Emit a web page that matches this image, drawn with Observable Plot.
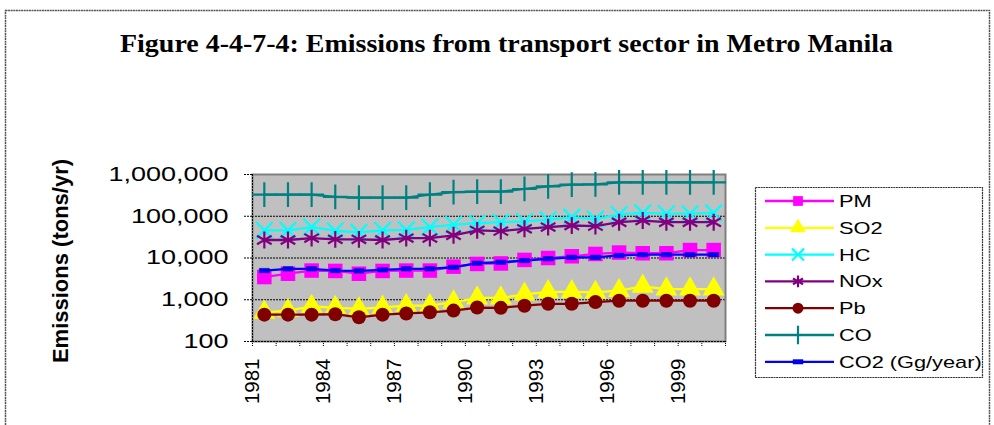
<!DOCTYPE html>
<html><head><meta charset="utf-8">
<script src="https://cdn.jsdelivr.net/npm/d3@7"></script>
<script src="https://cdn.jsdelivr.net/npm/@observablehq/plot@0.6"></script>
<style>html,body{margin:0;padding:0;background:#fff}svg{display:block}</style>
</head><body><div id="chart"></div>
<script>
const years = [1981,1982,1983,1984,1985,1986,1987,1988,1989,1990,1991,1992,1993,1994,1995,1996,1997,1998,1999,2000];
const labelYears = [1981,1984,1987,1990,1993,1996,1999];
const yTicks = [100,1000,10000,100000,1000000];
const seriesNames = ["PM","SO2","HC","NOx","Pb","CO","CO2 (Gg/year)"];
const seriesColors = ["#ff00ff","#ffff00","#00ffff","#800080","#800000","#008080","#0000ff"];

const PM  = [3500,4200,5000,4900,4200,4900,5000,5000,6200,7200,7400,9000,10000,11000,12500,13500,13000,13000,15500,15500];
const SO2 = [500,550,690,650,600,660,720,720,880,1100,1100,1350,1550,1550,1500,1650,2100,1800,1800,1800];
const HC  = [46000,46000,55000,45000,41000,46000,47000,55000,63000,68000,72000,75000,82000,95000,85000,110000,120000,115000,115000,120000];
const NOx = [27000,27000,30000,28000,28000,27000,30000,30000,35000,46000,44000,50000,55000,60000,58000,72000,79000,72000,72000,72000];
const Pb  = [440,440,440,450,380,440,470,500,550,650,640,720,800,800,880,950,950,950,950,950];
const CO  = [330000,330000,330000,290000,280000,280000,280000,330000,380000,390000,390000,450000,520000,570000,580000,650000,650000,650000,650000,650000];
const CO2 = [5000,5500,5500,5000,4900,5200,5500,5500,6000,7500,7900,8700,9600,10400,10400,11500,12000,12000,12000,12000];

const seriesValues = [PM,SO2,HC,NOx,Pb,CO,CO2];
const table = seriesNames.map((name,i)=>years.map((year,j)=>({series:name, year, value:seriesValues[i][j]})));

const smallRect = {draw(ctx, size){ ctx.rect(-5,-2.2,10,4.4); }};
const markerStyles = [
  {symbol:"square", fill:"#ff00ff", stroke:"none", r:8.2, lr:5.5},
  {symbol:"triangle", fill:"#ffff00", stroke:"none", r:8.2, lr:5.8},
  {symbol:"times", fill:"none", stroke:"#00ffff", r:7.6, strokeWidth:2.2, lr:5.5},
  {symbol:"asterisk", fill:"none", stroke:"#800080", r:8, strokeWidth:2.2, lr:5.5},
  {symbol:"circle", fill:"#800000", stroke:"none", r:7, lr:5.5},
  {symbol:"plus", fill:"none", stroke:"#008080", r:8, strokeWidth:2.2, lr:6},
  {symbol:smallRect, fill:"#0000ff", stroke:"#000080", r:3, strokeWidth:0.5, lr:3}
];

const seriesMarks = [];
table.forEach((rows,i)=>{
  seriesMarks.push(Plot.line(rows,{x:"year", y:"value", stroke:seriesColors[i], strokeWidth:2.3}));
  const m = markerStyles[i];
  seriesMarks.push(Plot.dot(rows,{x:"year", y:"value", symbol:()=>m.symbol, fill:m.fill, stroke:m.stroke, r:m.r, strokeWidth:m.strokeWidth||1}));
});

const bounds = years.map(y=>y-0.5).concat([years[years.length-1]+0.5]);

const chart = Plot.plot({
  width:994, height:425,
  marginLeft:252, marginRight:269, marginTop:174, marginBottom:84,
  style:{fontFamily:"Arial, 'Liberation Sans', sans-serif", background:"transparent", overflow:"visible", color:"#000"},
  x:{type:"linear", domain:[bounds[0], bounds[bounds.length-1]]},
  y:{type:"log", domain:[yTicks[0], yTicks[yTicks.length-1]]},
  symbol:{type:"identity"},
  marks:[
    Plot.frame({fill:"#c0c0c0", stroke:"none"}),
    Plot.gridY(yTicks.slice(1), {stroke:"#000", strokeOpacity:1, strokeDasharray:"2,1", strokeWidth:1}),
    Plot.frame({stroke:"#808080", strokeWidth:2, fill:"none"}),
    Plot.axisY(yTicks, {tickSize:9, tickPadding:15, tickFormat:d3.format(","), fontSize:20, label:null, strokeDasharray:"2,1"}),
    Plot.axisX(bounds, {tickSize:5, tickFormat:()=>"", label:null, strokeDasharray:"1,1"}),
    Plot.ruleX([bounds[0]], {stroke:"#000", strokeDasharray:"2,1"}),
    Plot.ruleY([yTicks[0]], {stroke:"#000", strokeDasharray:"2,1"}),
    ...seriesMarks,
    Plot.text(labelYears, {x:d=>d, frameAnchor:"bottom", text:d=>String(d), rotate:-90, textAnchor:"end", dy:17, dx:-5, fontSize:20.5, fill:"#000"})
  ]
});
document.getElementById("chart").appendChild(chart);

const svg = d3.select(chart);
svg.selectAll('g[aria-label="y-axis tick label"] text').each(function(){
  const len = this.getComputedTextLength();
  d3.select(this).attr("textLength", len*1.35).attr("lengthAdjust","spacingAndGlyphs");
});

// outer frame
svg.append("rect").attr("x",5.5).attr("y",10.5).attr("width",984).attr("height",440)
  .attr("fill","none").attr("stroke","#555").attr("stroke-width",1.5).attr("stroke-dasharray","2,0.6");

// title
svg.append("text").attr("x",506.5).attr("y",52).attr("text-anchor","middle")
  .attr("font-family","'Times New Roman','Liberation Serif',serif").attr("font-weight","bold").attr("font-size",25)
  .attr("textLength",773).attr("lengthAdjust","spacingAndGlyphs")
  .text("Figure 4-4-7-4: Emissions from transport sector in Metro Manila");

// y axis title
svg.append("text").attr("transform","translate(68,261) rotate(-90)").attr("text-anchor","middle")
  .attr("font-family","Arial,'Liberation Sans',sans-serif").attr("font-weight","bold").attr("font-size",22)
  .text("Emissions (tons/yr)");

// legend
const lg = svg.append("g");
lg.append("rect").attr("x",755.5).attr("y",187.5).attr("width",227).attr("height",190)
  .attr("fill","#fff").attr("stroke","#333").attr("stroke-width",1.2).attr("stroke-dasharray","2,0.6");
const legendRowY0 = 201, legendRowStep = 26.8;
const symMap = {square:d3.symbolSquare, triangle:d3.symbolTriangle, times:d3.symbolTimes, asterisk:d3.symbolAsterisk, circle:d3.symbolCircle, plus:d3.symbolPlus};
seriesNames.forEach((name,i)=>{
  const y = legendRowY0 + i*legendRowStep;
  const m = markerStyles[i];
  lg.append("line").attr("x1",765).attr("x2",834).attr("y1",y).attr("y2",y).attr("stroke",seriesColors[i]).attr("stroke-width",2.3);
  const r = m.lr;
  const sym = typeof m.symbol === "string" ? symMap[m.symbol] : m.symbol;
  lg.append("path").attr("transform",`translate(798,${y})`)
    .attr("d", d3.symbol(sym, Math.PI*r*r)())
    .attr("fill",m.fill).attr("stroke",m.stroke).attr("stroke-width",m.strokeWidth||1);
  const t = lg.append("text").attr("x",839).attr("y",y+6).attr("text-anchor","start")
    .attr("font-family","Arial,'Liberation Sans',sans-serif").attr("font-size",17).text(name);
  const len = t.node().getComputedTextLength();
  t.attr("textLength",len*1.28).attr("lengthAdjust","spacingAndGlyphs");
});
</script></body></html>
